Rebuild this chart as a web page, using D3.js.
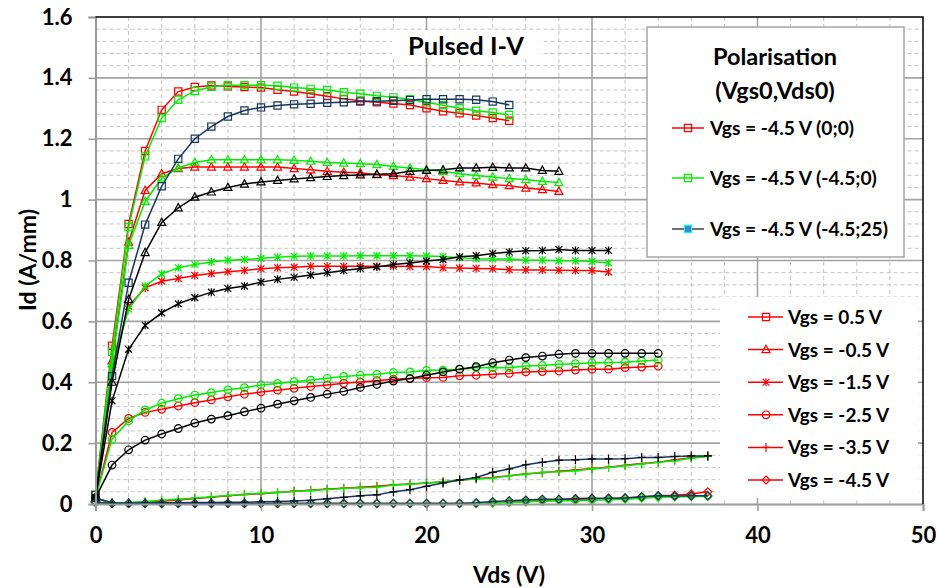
<!DOCTYPE html>
<html>
<head>
<meta charset="utf-8">
<script src="https://cdn.jsdelivr.net/npm/d3@7"></script>
<style>
  body { margin: 0; background: #fff; }
  svg { display: block; font-family: Lato, "Open Sans", sans-serif; font-weight: bold; }
</style>
</head>
<body>
<svg width="938" height="588"></svg>
<script>
const width = 938,
  height = 588;
const svg = d3.select('svg');

// Drain voltage grid (V) - every series is sampled at these points
const vds = [0, 1, 2, 3, 4, 5, 6, 7, 8, 9, 10, 11, 12, 13, 14, 15, 16, 17, 18, 19,
  20, 21, 22, 23, 24, 25, 26, 27, 28, 29, 30, 31, 32, 33, 34, 35, 36, 37];

const xTicks = [0, 10, 20, 30, 40, 50];
const yTicks = [0, 0.2, 0.4, 0.6, 0.8, 1, 1.2, 1.4, 1.6];

const vgsLabels = ['Vgs = 0.5 V', 'Vgs = -0.5 V', 'Vgs = -1.5 V', 'Vgs = -2.5 V', 'Vgs = -3.5 V', 'Vgs = -4.5 V'];
const biasLabels = ['Vgs = -4.5 V (0;0)', 'Vgs = -4.5 V (-4.5;0)', 'Vgs = -4.5 V (-4.5;25)'];

// Id (A/mm), bias (0;0)
const red_p05 = [0.03, 0.52, 0.92, 1.16, 1.295, 1.355, 1.37, 1.375, 1.372, 1.37, 1.368, 1.361, 1.355, 1.348, 1.34, 1.331, 1.325, 1.32, 1.316, 1.311, 1.30, 1.29, 1.284, 1.276, 1.268, 1.259];
const red_m05 = [0.02, 0.47, 0.86, 1.03, 1.085, 1.102, 1.107, 1.107, 1.107, 1.107, 1.107, 1.107, 1.102, 1.098, 1.093, 1.09, 1.088, 1.082, 1.079, 1.074, 1.069, 1.063, 1.058, 1.055, 1.049, 1.046, 1.038, 1.033, 1.027];
const red_m15 = [0.02, 0.44, 0.65, 0.71, 0.732, 0.741, 0.751, 0.757, 0.763, 0.767, 0.773, 0.776, 0.778, 0.781, 0.781, 0.781, 0.781, 0.781, 0.781, 0.78, 0.78, 0.776, 0.775, 0.774, 0.773, 0.77, 0.769, 0.769, 0.768, 0.767, 0.767, 0.762];
const red_m25 = [0.02, 0.235, 0.281, 0.301, 0.311, 0.322, 0.333, 0.342, 0.352, 0.361, 0.368, 0.374, 0.38, 0.386, 0.391, 0.397, 0.401, 0.405, 0.41, 0.412, 0.415, 0.416, 0.421, 0.423, 0.426, 0.429, 0.434, 0.435, 0.437, 0.44, 0.443, 0.443, 0.448, 0.45, 0.453];
const red_m35 = [0.02, 0.003, 0.004, 0.006, 0.009, 0.013, 0.018, 0.022, 0.027, 0.031, 0.034, 0.038, 0.042, 0.045, 0.049, 0.052, 0.055, 0.058, 0.063, 0.066, 0.069, 0.073, 0.078, 0.083, 0.087, 0.093, 0.099, 0.103, 0.108, 0.112, 0.117, 0.121, 0.127, 0.133, 0.137, 0.145, 0.152, 0.158];
const red_m45 = [0.005, 0.002, 0.002, 0.002, 0.002, 0.002, 0.002, 0.002, 0.002, 0.002, 0.002, 0.002, 0.002, 0.002, 0.002, 0.002, 0.002, 0.002, 0.002, 0.002, 0.002, 0.002, 0.002, 0.002, 0.004, 0.006, 0.008, 0.011, 0.014, 0.015, 0.016, 0.018, 0.02, 0.023, 0.027, 0.029, 0.033, 0.04];

// Id (A/mm), bias (-4.5;0)
const green_p05 = [0.03, 0.50, 0.91, 1.142, 1.268, 1.328, 1.357, 1.371, 1.376, 1.376, 1.376, 1.374, 1.368, 1.364, 1.36, 1.353, 1.348, 1.341, 1.336, 1.33, 1.32, 1.31, 1.30, 1.292, 1.286, 1.278];
const green_m05 = [0.02, 0.46, 0.85, 0.994, 1.071, 1.104, 1.122, 1.131, 1.131, 1.131, 1.131, 1.131, 1.129, 1.126, 1.122, 1.12, 1.118, 1.115, 1.109, 1.104, 1.098, 1.093, 1.085, 1.079, 1.074, 1.069, 1.066, 1.06, 1.056];
const green_m15 = [0.02, 0.45, 0.64, 0.716, 0.756, 0.776, 0.787, 0.795, 0.801, 0.803, 0.807, 0.811, 0.814, 0.815, 0.815, 0.815, 0.816, 0.816, 0.816, 0.816, 0.815, 0.813, 0.809, 0.806, 0.805, 0.805, 0.801, 0.801, 0.799, 0.799, 0.797, 0.792];
const green_m25 = [0.02, 0.213, 0.273, 0.309, 0.331, 0.346, 0.358, 0.366, 0.375, 0.382, 0.391, 0.396, 0.402, 0.407, 0.413, 0.419, 0.423, 0.426, 0.432, 0.434, 0.439, 0.44, 0.443, 0.448, 0.448, 0.448, 0.453, 0.455, 0.459, 0.461, 0.464, 0.465, 0.466, 0.47, 0.473];
const green_m35 = [0.02, 0.003, 0.005, 0.008, 0.012, 0.016, 0.02, 0.024, 0.028, 0.032, 0.035, 0.038, 0.041, 0.044, 0.048, 0.051, 0.053, 0.055, 0.062, 0.065, 0.069, 0.072, 0.079, 0.082, 0.085, 0.093, 0.098, 0.104, 0.106, 0.109, 0.115, 0.12, 0.126, 0.131, 0.137, 0.142, 0.15, 0.156];
const green_m45 = [0.005, 0.002, 0.002, 0.002, 0.002, 0.002, 0.002, 0.002, 0.002, 0.002, 0.002, 0.002, 0.002, 0.002, 0.002, 0.002, 0.002, 0.002, 0.002, 0.002, 0.002, 0.002, 0.002, 0.002, 0.003, 0.005, 0.007, 0.009, 0.011, 0.011, 0.012, 0.014, 0.016, 0.019, 0.022, 0.023, 0.025, 0.025];

// Id (A/mm), bias (-4.5;25)
const dark_p05 = [0.03, 0.42, 0.727, 0.918, 1.044, 1.134, 1.2, 1.24, 1.273, 1.293, 1.303, 1.309, 1.313, 1.315, 1.318, 1.32, 1.322, 1.323, 1.325, 1.327, 1.33, 1.33, 1.33, 1.328, 1.322, 1.311];
const dark_m05 = [0.02, 0.40, 0.672, 0.826, 0.925, 0.973, 1.008, 1.025, 1.04, 1.051, 1.058, 1.063, 1.068, 1.072, 1.076, 1.079, 1.081, 1.083, 1.085, 1.093, 1.096, 1.098, 1.104, 1.104, 1.106, 1.104, 1.104, 1.096, 1.093];
const dark_m15 = [0.02, 0.339, 0.508, 0.587, 0.628, 0.658, 0.678, 0.696, 0.708, 0.716, 0.729, 0.738, 0.745, 0.752, 0.76, 0.767, 0.774, 0.779, 0.787, 0.792, 0.798, 0.803, 0.812, 0.816, 0.823, 0.828, 0.832, 0.833, 0.836, 0.833, 0.833, 0.833];
const dark_m25 = [0.02, 0.128, 0.178, 0.21, 0.23, 0.248, 0.266, 0.279, 0.29, 0.303, 0.315, 0.328, 0.339, 0.35, 0.361, 0.37, 0.383, 0.393, 0.404, 0.412, 0.423, 0.434, 0.443, 0.451, 0.464, 0.473, 0.481, 0.486, 0.492, 0.495, 0.495, 0.495, 0.495, 0.495, 0.495];
const dark_m35 = [0.02, 0.003, 0.003, 0.003, 0.004, 0.004, 0.005, 0.005, 0.006, 0.006, 0.007, 0.008, 0.01, 0.012, 0.017, 0.022, 0.027, 0.03, 0.04, 0.047, 0.058, 0.069, 0.079, 0.087, 0.104, 0.115, 0.129, 0.137, 0.144, 0.145, 0.148, 0.148, 0.149, 0.153, 0.153, 0.156, 0.158, 0.158];
const dark_m45 = [0.005, 0.002, 0.002, 0.002, 0.002, 0.002, 0.002, 0.002, 0.002, 0.002, 0.002, 0.002, 0.002, 0.002, 0.002, 0.002, 0.002, 0.002, 0.002, 0.002, 0.002, 0.002, 0.002, 0.004, 0.008, 0.011, 0.013, 0.016, 0.016, 0.018, 0.019, 0.019, 0.02, 0.024, 0.027, 0.026, 0.027, 0.027];

const RED = '#ff0000', GREEN = '#00ee00', NAVY = '#17365d', BLACK = '#000000';
const markers = ['square', 'triangle', 'star', 'circle', 'plus', 'diamond'];

// series in drawing order: red, green, then the (-4.5;25) set on top
const series = [
  ...[red_p05, red_m05, red_m15, red_m25, red_m35, red_m45].map((v, i) => ({ values: v, line: RED, mark: RED, marker: markers[i] })),
  ...[green_p05, green_m05, green_m15, green_m25, green_m35, green_m45].map((v, i) => ({ values: v, line: GREEN, mark: GREEN, marker: markers[i] })),
  { values: dark_p05, line: NAVY, mark: NAVY, marker: 'square' },
  { values: dark_m05, line: BLACK, mark: BLACK, marker: 'triangle' },
  { values: dark_m15, line: BLACK, mark: BLACK, marker: 'star' },
  { values: dark_m25, line: BLACK, mark: BLACK, marker: 'circle' },
  { values: dark_m35, line: NAVY, mark: BLACK, marker: 'plus' },
  { values: dark_m45, line: NAVY, mark: NAVY, marker: 'diamond' },
];

const x = d3.scaleLinear().domain([0, 50]).range([95.5, 923]);
const y = d3.scaleLinear().domain([0, 1.6]).range([504, 17]);

function markerPath(type) {
  const s = 3.6;
  switch (type) {
    case 'square': return `M${-s},${-s}H${s}V${s}H${-s}Z`;
    case 'triangle': return `M0,${-4.3}L${4},${3}L${-4},${3}Z`;
    case 'star': return `M-3.4,-3.4L3.4,3.4M-3.4,3.4L3.4,-3.4M0,-4V4`;
    case 'circle': { const p = d3.path(); p.arc(0, 0, 3.8, 0, 2 * Math.PI); p.closePath(); return p.toString(); }
    case 'plus': return `M-4,0H4M0,-4.5V4.5`;
    case 'diamond': return `M0,-4L4,0L0,4L-4,0Z`;
  }
}

// Gridlines
const grid = svg.append('g');
grid.selectAll('line.minor-y')
  .data(d3.range(1, 40).filter((i) => i % 5 !== 0).map((i) => i * 0.04))
  .join('line')
  .attr('x1', x(0)).attr('x2', x(50))
  .attr('y1', (d) => y(d)).attr('y2', (d) => y(d))
  .attr('stroke', '#c4c4c4').attr('stroke-dasharray', '4,3');
grid.selectAll('line.minor-x')
  .data(d3.range(1, 25).filter((i) => i % 5 !== 0).map((i) => i * 2))
  .join('line')
  .attr('x1', (d) => x(d)).attr('x2', (d) => x(d))
  .attr('y1', y(0)).attr('y2', y(1.6))
  .attr('stroke', '#c4c4c4').attr('stroke-dasharray', '4,3');
grid.selectAll('line.major-y')
  .data(yTicks.slice(1, -1))
  .join('line')
  .attr('x1', x(0)).attr('x2', x(50))
  .attr('y1', (d) => y(d)).attr('y2', (d) => y(d))
  .attr('stroke', '#a3a3a3').attr('stroke-width', 1.6);
grid.selectAll('line.major-x')
  .data(xTicks.slice(1, -1))
  .join('line')
  .attr('x1', (d) => x(d)).attr('x2', (d) => x(d))
  .attr('y1', y(0)).attr('y2', y(1.6))
  .attr('stroke', '#a3a3a3').attr('stroke-width', 1.6);

// Title box
svg.append('rect').attr('x', 392).attr('y', 30).attr('width', 148).attr('height', 28).attr('fill', '#fff');
svg.append('text')
  .attr('x', 466).attr('y', 55)
  .attr('text-anchor', 'middle')
  .attr('font-size', 25.5)
  .text('Pulsed I-V');

// Series
const line = d3.line().x((d, i) => x(vds[i])).y((d) => y(d));
const plot = svg.append('g');
series.forEach((s) => {
  plot.append('path')
    .datum(s.values)
    .attr('fill', 'none')
    .attr('stroke', s.line)
    .attr('stroke-width', 1.5)
    .attr('d', line);
  plot.append('g')
    .selectAll('path')
    .data(s.values)
    .join('path')
    .attr('transform', (d, i) => `translate(${x(vds[i])},${y(d)})`)
    .attr('d', markerPath(s.marker))
    .attr('fill', 'none')
    .attr('stroke', s.mark)
    .attr('stroke-width', 1.2);
});

// Axes
const yAxis = svg.append('g')
  .attr('transform', `translate(${x(0)},0)`)
  .call(d3.axisLeft(y).tickValues(yTicks).tickSize(7).tickPadding(16).tickFormat((d) => String(+d.toFixed(1))));
const xAxis = svg.append('g')
  .attr('transform', `translate(0,${y(0)})`)
  .call(d3.axisBottom(x).tickValues(xTicks).tickSize(7).tickPadding(16).tickFormat((d) => d));
[yAxis, xAxis].forEach((a) => {
  a.select('.domain').attr('stroke', '#9a9a9a').attr('stroke-width', 2);
  a.selectAll('.tick line').attr('stroke', '#9a9a9a').attr('stroke-width', 1.5);
  a.selectAll('.tick text').attr('font-size', 22).attr('font-weight', 'bold')
    .attr('font-family', 'Lato, sans-serif').attr('fill', '#000');
});
// top and right border
svg.append('path')
  .attr('d', `M${x(0)},${y(1.6)}H${x(50)}V${y(0)}`)
  .attr('fill', 'none').attr('stroke', '#000').attr('stroke-width', 1.5);

svg.append('text')
  .attr('x', 509).attr('y', 583)
  .attr('text-anchor', 'middle')
  .attr('font-size', 23)
  .text('Vds (V)');
svg.append('text')
  .attr('transform', 'translate(36,260) rotate(-90)')
  .attr('text-anchor', 'middle')
  .attr('font-size', 23)
  .text('Id (A/mm)');

// Bias legend
const leg1 = svg.append('g');
leg1.append('rect').attr('x', 647).attr('y', 27).attr('width', 257).attr('height', 230)
  .attr('fill', '#fff').attr('stroke', '#a6a6a6').attr('stroke-width', 1.5);
leg1.append('text').attr('x', 775).attr('y', 65).attr('text-anchor', 'middle').attr('font-size', 23.5).text('Polarisation');
leg1.append('text').attr('x', 775).attr('y', 99).attr('text-anchor', 'middle').attr('font-size', 23.5).text('(Vgs0,Vds0)');
const biasStyles = [
  { line: RED, stroke: RED, fill: 'none' },
  { line: GREEN, stroke: GREEN, fill: 'none' },
  { line: '#404040', stroke: '#00ffff', fill: '#4f81bd' },
];
biasLabels.forEach((label, i) => {
  const cy = [128, 178, 229][i];
  const g = leg1.append('g');
  g.append('line').attr('x1', 672).attr('x2', 704).attr('y1', cy).attr('y2', cy)
    .attr('stroke', biasStyles[i].line).attr('stroke-width', 1.5);
  g.append('path').attr('transform', `translate(688,${cy})`).attr('d', markerPath('square'))
    .attr('fill', biasStyles[i].fill).attr('stroke', biasStyles[i].stroke).attr('stroke-width', 1.2);
  g.append('text').attr('x', 710).attr('y', cy + 7).attr('font-size', 19.2).text(label);
});

// Vgs legend
const leg2 = svg.append('g');
leg2.append('rect').attr('x', 720).attr('y', 297).attr('width', 198).attr('height', 201).attr('fill', '#fff');
vgsLabels.forEach((label, i) => {
  const cy = 317 + i * 32.6;
  leg2.append('line').attr('x1', 748).attr('x2', 783).attr('y1', cy).attr('y2', cy)
    .attr('stroke', RED).attr('stroke-width', 1.5);
  leg2.append('path').attr('transform', `translate(766,${cy})`).attr('d', markerPath(markers[i]))
    .attr('fill', 'none').attr('stroke', RED).attr('stroke-width', 1.2);
  leg2.append('text').attr('x', 788).attr('y', cy + 7).attr('font-size', 19).text(label);
});
</script>
</body>
</html>
